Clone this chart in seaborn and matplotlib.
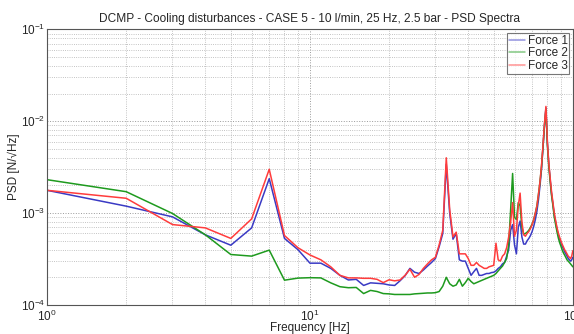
import numpy as np
import pandas as pd
import seaborn as sns
import matplotlib
matplotlib.use("Agg")
import matplotlib.pyplot as plt
import matplotlib.ticker as ticker

# frequency axis, 1 Hz resolution
freq = list(range(1, 101))

force1 = [
    1.77e-3, 1.19e-3, 9.1e-4, 5.8e-4, 4.47e-4, 6.9e-4, 2.37e-3, 5.3e-4, 4.0e-4, 2.85e-4,
    2.85e-4, 2.5e-4, 2.1e-4, 1.87e-4, 1.9e-4, 1.63e-4, 1.74e-4, 1.72e-4, 1.7e-4, 1.65e-4,
    1.63e-4, 1.83e-4, 2.08e-4, 2.5e-4, 2.27e-4, 2.2e-4, 2.4e-4, 2.65e-4, 2.9e-4, 3.2e-4,
    4.3e-4, 6.0e-4, 3.4e-3, 1.0e-3, 5.2e-4, 6.0e-4, 3.1e-4, 3.0e-4, 3.0e-4, 2.5e-4,
    2.1e-4, 2.3e-4, 2.5e-4, 2.1e-4, 2.1e-4, 2.15e-4, 2.2e-4, 2.2e-4, 2.25e-4, 2.27e-4,
    2.35e-4, 2.5e-4, 2.6e-4, 2.8e-4, 2.9e-4, 3.4e-4, 4.0e-4, 6.5e-4, 7.5e-4, 4.5e-4,
    3.6e-4, 7.0e-4, 8.2e-4, 5.5e-4, 4.6e-4, 4.6e-4, 5.0e-4, 5.3e-4, 5.7e-4, 6.3e-4,
    7.2e-4, 8.5e-4, 1.05e-3, 1.4e-3, 2.0e-3, 3.0e-3, 5.2e-3, 9.0e-3, 1.4e-2, 5.8e-3,
    3.4e-3, 2.3e-3, 1.6e-3, 1.25e-3, 9.5e-4, 8.0e-4, 6.7e-4, 5.8e-4, 5.2e-4, 4.8e-4,
    4.4e-4, 4.1e-4, 3.8e-4, 3.6e-4, 3.4e-4, 3.2e-4, 3.1e-4, 3.0e-4, 3.1e-4, 3.3e-4,
]

force2 = [
    2.31e-3, 1.71e-3, 9.9e-4, 5.8e-4, 3.54e-4, 3.4e-4, 3.95e-4, 1.86e-4, 1.96e-4, 1.98e-4,
    1.97e-4, 1.74e-4, 1.58e-4, 1.54e-4, 1.55e-4, 1.33e-4, 1.44e-4, 1.4e-4, 1.33e-4, 1.32e-4,
    1.3e-4, 1.3e-4, 1.3e-4, 1.3e-4, 1.32e-4, 1.33e-4, 1.34e-4, 1.35e-4, 1.35e-4, 1.36e-4,
    1.4e-4, 1.6e-4, 2.0e-4, 1.7e-4, 1.6e-4, 1.65e-4, 1.9e-4, 1.6e-4, 1.75e-4, 1.95e-4,
    1.8e-4, 1.7e-4, 1.75e-4, 1.8e-4, 1.85e-4, 1.9e-4, 1.95e-4, 2.0e-4, 2.05e-4, 2.1e-4,
    2.2e-4, 2.35e-4, 2.5e-4, 2.65e-4, 2.9e-4, 3.2e-4, 4.5e-4, 1.1e-3, 2.7e-3, 9.0e-4,
    8.5e-4, 1.3e-3, 1.2e-3, 7.0e-4, 5.9e-4, 6.0e-4, 6.2e-4, 6.5e-4, 7.0e-4, 7.6e-4,
    8.5e-4, 1.0e-3, 1.2e-3, 1.6e-3, 2.2e-3, 3.2e-3, 5.3e-3, 9.0e-3, 1.35e-2, 5.5e-3,
    3.2e-3, 2.2e-3, 1.55e-3, 1.2e-3, 9.0e-4, 7.5e-4, 6.3e-4, 5.4e-4, 4.8e-4, 4.4e-4,
    4.0e-4, 3.7e-4, 3.5e-4, 3.3e-4, 3.1e-4, 3.0e-4, 2.9e-4, 2.8e-4, 2.7e-4, 2.6e-4,
]

force3 = [
    1.77e-3, 1.45e-3, 7.5e-4, 6.9e-4, 5.3e-4, 8.65e-4, 3.0e-3, 5.7e-4, 4.2e-4, 3.5e-4,
    3.1e-4, 2.6e-4, 2.1e-4, 1.97e-4, 1.97e-4, 1.95e-4, 1.95e-4, 1.9e-4, 1.75e-4, 1.88e-4,
    1.83e-4, 1.87e-4, 2.1e-4, 2.45e-4, 2.0e-4, 2.15e-4, 2.5e-4, 2.8e-4, 3.1e-4, 3.3e-4,
    4.5e-4, 6.5e-4, 4.0e-3, 1.1e-3, 5.5e-4, 6.2e-4, 3.6e-4, 3.6e-4, 3.6e-4, 3.2e-4,
    2.7e-4, 2.7e-4, 2.9e-4, 2.7e-4, 2.6e-4, 2.5e-4, 2.5e-4, 2.6e-4, 2.65e-4, 2.7e-4,
    4.7e-4, 3.1e-4, 3.0e-4, 3.4e-4, 3.6e-4, 4.2e-4, 5.5e-4, 8.0e-4, 1.3e-3, 5.6e-4,
    6.5e-4, 1.2e-3, 1.65e-3, 8.0e-4, 5.8e-4, 5.6e-4, 6.0e-4, 6.3e-4, 6.8e-4, 7.5e-4,
    8.5e-4, 1.0e-3, 1.2e-3, 1.6e-3, 2.2e-3, 3.3e-3, 5.5e-3, 9.5e-3, 1.45e-2, 6.0e-3,
    3.5e-3, 2.4e-3, 1.7e-3, 1.3e-3, 1.0e-3, 8.3e-4, 7.0e-4, 6.1e-4, 5.5e-4, 5.0e-4,
    4.6e-4, 4.3e-4, 4.0e-4, 3.8e-4, 3.6e-4, 3.4e-4, 3.3e-4, 3.2e-4, 3.4e-4, 3.9e-4,
]

series_names = ["Force 1", "Force 2", "Force 3"]
colors = ["#3a3ac4", "#1e9a1e", "#ff3c3c"]

df = pd.DataFrame({
    "Frequency": freq * 3,
    "PSD": force1 + force2 + force3,
    "Series": [series_names[0]] * 100 + [series_names[1]] * 100 + [series_names[2]] * 100,
})

sns.set_style("white")
plt.rcParams["font.family"] = ["Liberation Sans", "DejaVu Sans"]
plt.rcParams["mathtext.default"] = "regular"

fig = plt.figure(figsize=(5.74, 3.34), dpi=100)
ax = fig.add_axes([0.082, 0.087, 0.916, 0.825])

sns.lineplot(data=df, x="Frequency", y="PSD", hue="Series",
             palette=colors, linewidth=1.1, ax=ax, estimator=None)

ax.set_xscale("log")
ax.set_yscale("log")
ax.set_xlim(1, 100)
ax.set_ylim(1e-4, 1e-1)

ax.xaxis.set_major_locator(ticker.LogLocator(base=10))
ax.xaxis.set_minor_locator(ticker.LogLocator(base=10, subs=np.arange(2, 10)))
ax.yaxis.set_major_locator(ticker.LogLocator(base=10))
ax.yaxis.set_minor_locator(ticker.LogLocator(base=10, subs=np.arange(2, 10)))
ax.xaxis.set_minor_formatter(ticker.NullFormatter())
ax.yaxis.set_minor_formatter(ticker.NullFormatter())

ax.grid(True, which="major", color="#9a9a9a", linestyle=":", linewidth=0.7)
ax.grid(True, which="minor", color="#b0b0b0", linestyle=":", linewidth=0.6)
ax.tick_params(which="both", direction="in", labelsize=8.5, length=3, color="#444444", pad=1.5)
ax.tick_params(axis="x", pad=2.5)
ax.tick_params(which="minor", length=1.5)
for s in ax.spines.values():
    s.set_color("#555555")
    s.set_linewidth(0.8)

ax.set_title("DCMP - Cooling disturbances - CASE 5 - 10 l/min, 25 Hz, 2.5 bar - PSD Spectra",
             fontsize=8.6, pad=5)
ax.set_xlabel("Frequency [Hz]", fontsize=8.5, labelpad=-1)
ax.set_ylabel("PSD [N/\u221aHz]", fontsize=8.5)
ax.yaxis.set_label_coords(-0.052, 0.5)

leg = ax.legend(loc="upper right", fontsize=8.5, frameon=True, fancybox=False,
                borderpad=0.15, labelspacing=0.05, handlelength=1.4, handletextpad=0.2,
                borderaxespad=0.3, title=None)
leg.get_frame().set_edgecolor("#555555")
leg.get_frame().set_linewidth(0.8)
for line in leg.get_lines():
    line.set_alpha(0.55)

fig.savefig("out.png", dpi=100)
